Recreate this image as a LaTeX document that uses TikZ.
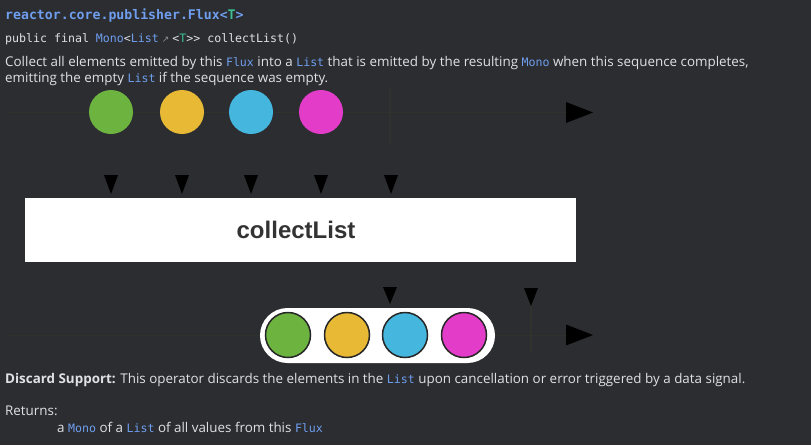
\documentclass[tikz,border=0pt]{standalone}
\usepackage{fontspec}
\setmainfont{Open Sans}
\setmonofont{DejaVu Sans Mono}
\newfontfamily\boxfont{Liberation Sans}
\newfontfamily\symfont{DejaVu Sans}
\usepackage{tikz}
\definecolor{bg}{HTML}{2B2D30}
\definecolor{txt}{HTML}{DFE1E5}
\definecolor{lnk}{HTML}{6F9EEF}
\definecolor{tparam}{HTML}{3DBF93}
\definecolor{faint}{HTML}{30322E}
\definecolor{mgreen}{HTML}{6DB33F}
\definecolor{myellow}{HTML}{E8B934}
\definecolor{mblue}{HTML}{45B6DD}
\definecolor{mpink}{HTML}{E23CC9}
\newcommand{\lk}[1]{{\fontsize{11.6}{15}\ttfamily\color{lnk}#1}}

\begin{document}
\begin{tikzpicture}[x=1pt,y=-1pt,
    doc/.style={anchor=base west,inner sep=0pt,text=txt,font=\fontsize{13.4}{15}\selectfont},
    code/.style={doc,font=\fontsize{11.6}{15}\ttfamily},
    marble/.style={circle,inner sep=0pt,minimum size=44pt},
    omarble/.style={marble,draw=black!85,line width=1.5pt,minimum size=45pt},
    tick/.style={fill=black}]
  \useasboundingbox[fill=bg] (0,0) rectangle (811,445);

  % header
  \node[code,font=\fontsize{13.2}{15}\ttfamily\bfseries,text=lnk] (pkg) at (5,19)
    {reactor.core.publisher.Flux<{\color{tparam}T}>};
  \node[code] (sig) at (5,42.5)
    {public final \lk{Mono}<\lk{List}\hspace{3pt}{\symfont\fontsize{9}{9}\selectfont\color{txt!55!bg}↗}\hspace{3pt}<{\color{tparam}T}>> collectList()};
  \node[doc] (desc1) at (5,66)
    {Collect all elements emitted by this \lk{Flux} into a \lk{List} that is emitted by the resulting \lk{Mono} when this sequence completes,};
  \node[doc] (desc2) at (5,82.5)
    {emitting the empty \lk{List} if the sequence was empty.};

  % source timeline
  \draw[faint,line width=1pt] (8,112) -- (566,112);
  \draw[faint,line width=2pt] (390,88) -- (390,143);
  \fill[black] (566,102) -- (593,112.5) -- (566,123) -- cycle;
  \foreach \c/\x [count=\i] in {mgreen/111,myellow/182,mblue/251,mpink/321}
    \node[marble,fill=\c] (in\i) at (\x,112) {};
  \foreach \x in {111,182,251,321,391}
    \fill[tick] (\x-7,175) -- (\x+7,175) -- (\x,194) -- cycle;

  % operator
  \node[fill=white,minimum width=551pt,minimum height=64pt,inner sep=0pt] (op) at (300.5,230) {};
  \node[font=\boxfont\bfseries\fontsize{24}{25}\selectfont,text=black!80] (oplabel) at (296,230) {collectList};

  % result timeline
  \draw[faint,line width=1pt] (8,335) -- (566,335);
  \draw[faint,line width=2pt] (531,306) -- (531,352);
  \fill[black] (566,324.5) -- (593,335) -- (566,345.5) -- cycle;
  \fill[tick] (383,287) -- (397,287) -- (390,304) -- cycle;
  \fill[tick] (524,288) -- (538,288) -- (531,306) -- cycle;
  \node[fill=white,rounded corners=27.5pt,minimum width=235pt,minimum height=55pt,inner sep=0pt] (list) at (377.5,335.5) {};
  \foreach \c/\x [count=\i] in {mgreen/288,myellow/347,mblue/405,mpink/464}
    \node[omarble,fill=\c] (out\i) at (\x,335) {};

  % footer
  \node[doc] (discard) at (5,383)
    {\textbf{Discard Support:} This operator discards the elements in the \lk{List} upon cancellation or error triggered by a data signal.};
  \node[doc] (ret) at (5,415) {Returns:};
  \node[doc] (retval) at (57,432) {a \lk{Mono} of a \lk{List} of all values from this \lk{Flux}};
\end{tikzpicture}
\end{document}
